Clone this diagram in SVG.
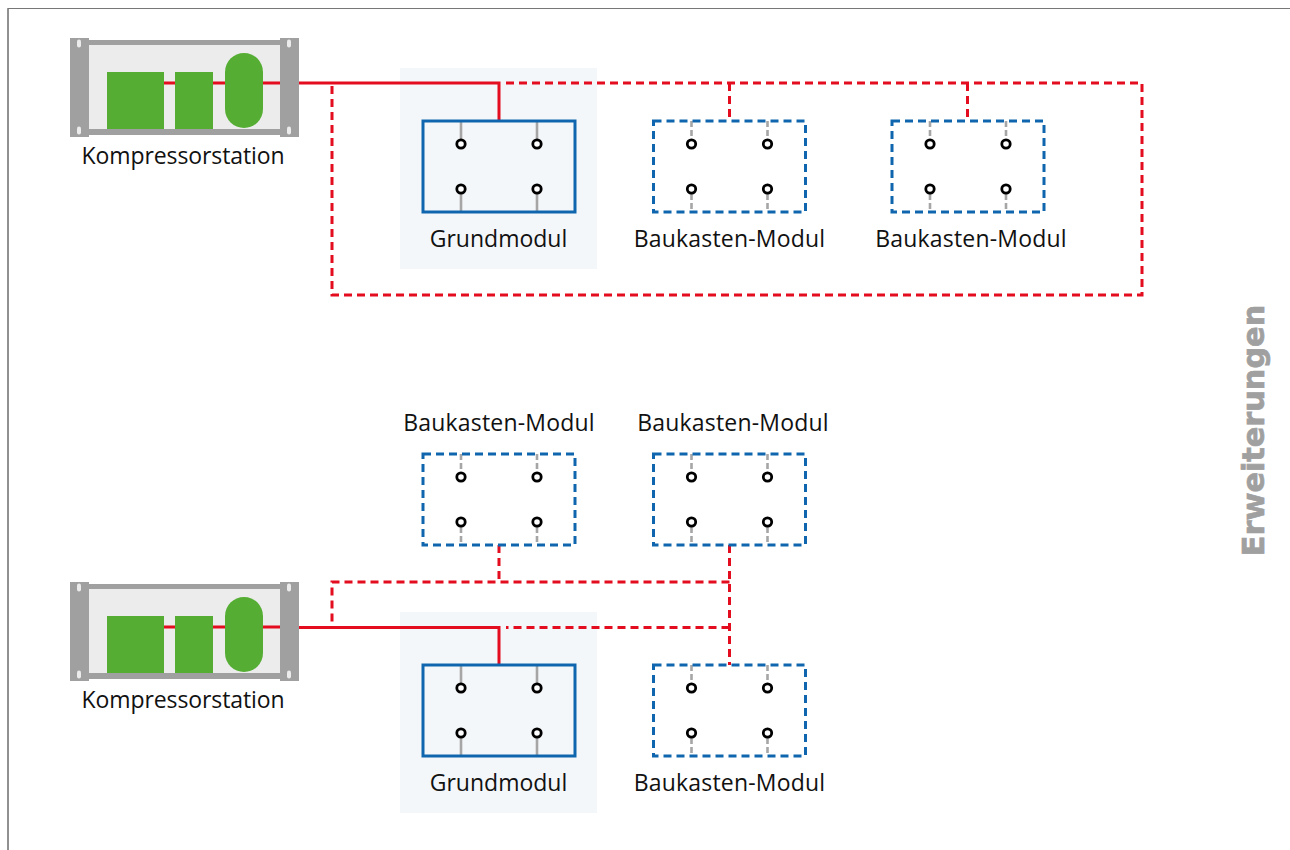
<svg xmlns="http://www.w3.org/2000/svg" width="1290" height="850" viewBox="0 0 1290 850">
<style>
text{font-family:"Open Sans","Noto Sans","Liberation Sans",sans-serif;font-size:23px;fill:#111;text-anchor:middle}
text.bm{letter-spacing:.2px}
text.ks{letter-spacing:-.1px}
text.title{font-family:"DejaVu Sans",sans-serif;font-weight:700;font-size:30.300px;fill:#a0a0a0;stroke:#a0a0a0;stroke-width:.7;letter-spacing:0}
.panel{fill:#f4f7f9}
.solid{fill:none;stroke:#e30d1f;stroke-width:3}
.dash{fill:none;stroke:#e30d1f;stroke-width:3;stroke-dasharray:8 5}
.box{fill:none;stroke:#0f66ae;stroke-width:3}
.boxd{fill:none;stroke:#0f66ae;stroke-width:3;stroke-dasharray:8 5}
.st{stroke:#a6a6a6;stroke-width:2.6;fill:none}
.std{stroke:#a6a6a6;stroke-width:2.6;fill:none;stroke-dasharray:6 3}
.port{fill:#fff;stroke:#000;stroke-width:2.8}
.g{fill:#a0a0a0}.gr{fill:#55ae33}.in{fill:#ececec}.hole{fill:#ececec}
</style>
<defs>
<g id="comp">
<rect class="in" x="88" y="45" width="192" height="84"/>
<rect class="g" x="88" y="40" width="192" height="5"/>
<rect class="g" x="88" y="129" width="192" height="6"/>
<rect class="g" x="70" y="38" width="19" height="99"/>
<rect class="g" x="280" y="38" width="19" height="99"/>
<rect class="hole" x="77" y="39.500" width="4" height="8" rx="2"/>
<rect class="hole" x="77" y="126.500" width="4" height="8" rx="2"/>
<rect class="hole" x="287" y="39.500" width="4" height="8" rx="2"/>
<rect class="hole" x="287" y="126.500" width="4" height="8" rx="2"/>
<path class="solid" d="M164 83H175M213 83H225M263 83H280"/>
<rect class="gr" x="107" y="72" width="57" height="57"/>
<rect class="gr" x="175" y="72" width="38" height="57"/>
<rect class="gr" x="225" y="53" width="38" height="75" rx="19"/>
</g>
<g id="ports">
<circle class="port" cx="38" cy="23" r="4.200"/>
<circle class="port" cx="114" cy="23" r="4.200"/>
<circle class="port" cx="38" cy="68" r="4.200"/>
<circle class="port" cx="114" cy="68" r="4.200"/>
</g>
<g id="mod">
<path class="st" d="M38 0V18M114 0V18M38 73V91M114 73V91"/>
<rect class="box" x="0" y="0" width="152" height="91"/>
<use href="#ports"/>
</g>
<g id="modd">
<path class="std" d="M38 0V18M114 0V18M38 73V91M114 73V91"/>
<rect class="boxd" x="0" y="0" width="152" height="91"/>
<use href="#ports"/>
</g>
</defs>
<path d="M8 850V8.500" fill="none" stroke="#222" stroke-width="1"/>
<path d="M7.500 8.500H1290" fill="none" stroke="#777" stroke-width="1"/>
<rect class="panel" x="400" y="68" width="197" height="201"/>
<rect class="panel" x="400" y="612" width="197" height="201"/>
<g id="connectors">
<path class="solid" d="M299 83H499V121"/>
<path class="dash" d="M506 83H1142V295H332V83"/>
<path class="dash" d="M729.500 83V121M967.500 83V121"/>
<path class="solid" d="M299 627.500H499V665"/>
<path class="dash" d="M729.500 627.500H506"/>
<path class="dash" d="M729.500 582H332V627.500"/>
<path class="dash" d="M499 545V582M729.500 545V665"/>
</g>
<g id="kompressor1"><use href="#comp"/><text class="ks" x="183" y="164">Kompressorstation</text></g>
<g id="grundmodul1"><use href="#mod" x="423" y="121"/><text x="498.500" y="247">Grundmodul</text></g>
<g id="modul1"><use href="#modd" x="653.500" y="121"/><text class="bm" x="729.500" y="247">Baukasten-Modul</text></g>
<g id="modul2"><use href="#modd" x="892" y="121"/><text class="bm" x="971" y="247">Baukasten-Modul</text></g>
<g id="modul3"><use href="#modd" x="423" y="454"/><text class="bm" x="499" y="431">Baukasten-Modul</text></g>
<g id="modul4"><use href="#modd" x="653.500" y="454"/><text class="bm" x="733" y="431">Baukasten-Modul</text></g>
<g id="kompressor2"><use href="#comp" y="544"/><text class="ks" x="183" y="708">Kompressorstation</text></g>
<g id="grundmodul2"><use href="#mod" x="423" y="665"/><text x="498.500" y="791">Grundmodul</text></g>
<g id="modul5"><use href="#modd" x="653.500" y="665"/><text class="bm" x="729.500" y="791">Baukasten-Modul</text></g>
<text class="title" transform="translate(1263.500 430.500) rotate(-90)">Erweiterungen</text>
</svg>
